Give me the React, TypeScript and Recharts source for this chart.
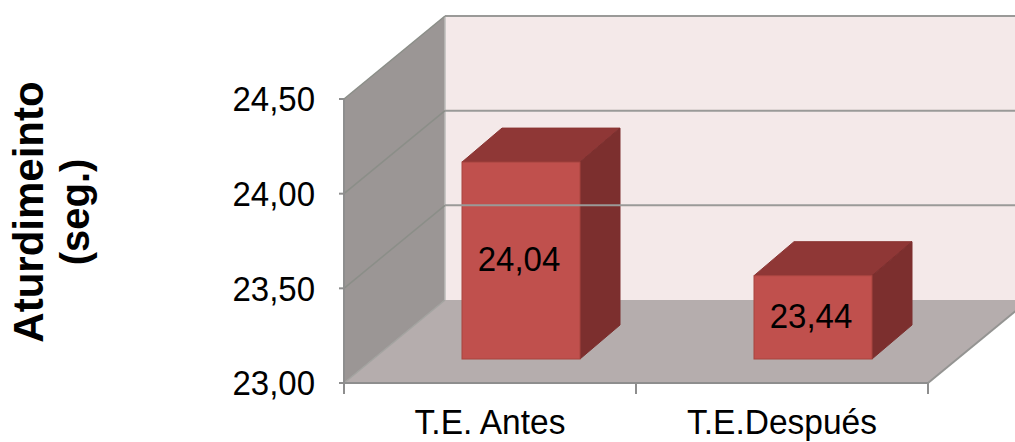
import React from "react";
import { BarChart, Bar, XAxis, YAxis, ReferenceArea, ReferenceLine, LabelList, Label } from "recharts";

// Chart values
const categories = ["T.E. Antes", "T.E.Después"];
const stunTimes = [24.04, 23.44];
const yTicks = [23, 23.5, 24, 24.5];
const yDomain = [23, 24.5];
const titleLines = ["Aturdimeinto", "(seg.)"];

const rows = categories.map((name, i) => ({ name, value: stunTimes[i] }));

// Oblique projection of the 3D box
const DEPTH_X = 101;
const DEPTH_Y = 83;
const BAR_DX = 31;
const BAR_DY = 24;
const BAR_DEPTH_X = 40;
const BAR_DEPTH_Y = 34;

// Text runs slightly taller than wide
const TEXT_STRETCH = 1.07;

const FONT = "'Liberation Sans', Arial, sans-serif";
const fmt = (v: number) => v.toFixed(2).replace(".", ",");

const StretchedText = ({ x, y, anchor, size = 33, children }: any) => (
  <text
    transform={`translate(${x} ${y}) scale(1 ${TEXT_STRETCH})`}
    textAnchor={anchor}
    dominantBaseline="central"
    fontFamily={FONT}
    fontSize={size}
    fill="#000"
  >
    {children}
  </text>
);

const BoxWalls = ({ x, y, width, height }: any) => {
  const bottom = y + height;
  const right = x + width;
  const step = width / categories.length;
  const tickXs = categories.map((_, i) => x + step * i).concat(right);
  return (
    <g>
      <polygon
        points={`${x + DEPTH_X},${y - DEPTH_Y} ${right + DEPTH_X},${y - DEPTH_Y} ${right + DEPTH_X},${bottom - DEPTH_Y} ${x + DEPTH_X},${bottom - DEPTH_Y}`}
        fill="#F4E9E9"
      />
      <polygon
        points={`${x},${y} ${x + DEPTH_X},${y - DEPTH_Y} ${x + DEPTH_X},${bottom - DEPTH_Y} ${x},${bottom}`}
        fill="#9B9695"
      />
      <polygon
        points={`${x},${bottom} ${right},${bottom} ${right + DEPTH_X},${bottom - DEPTH_Y} ${x + DEPTH_X},${bottom - DEPTH_Y}`}
        fill="#B5ADAD"
      />
      <line x1={x} y1={bottom} x2={x + DEPTH_X} y2={bottom - DEPTH_Y} stroke="#A3A3A0" strokeWidth={1.5} />
      <line x1={x + DEPTH_X} y1={y - DEPTH_Y} x2={x + DEPTH_X} y2={bottom - DEPTH_Y} stroke="#BDBBBA" strokeWidth={1.5} />
      <line x1={right} y1={bottom} x2={right + DEPTH_X} y2={bottom - DEPTH_Y} stroke="#949492" strokeWidth={2} />
      <line x1={x} y1={bottom} x2={right} y2={bottom} stroke="#8E8E8E" strokeWidth={2} />
      {tickXs.map((tx) => (
        <line key={tx} x1={tx} y1={bottom} x2={tx} y2={bottom + 11} stroke="#8E8E8E" strokeWidth={2} />
      ))}
    </g>
  );
};

const WallGridLine = ({ x1, x2, y1 }: any) => (
  <g>
    <line x1={x1} y1={y1} x2={x1 + DEPTH_X} y2={y1 - DEPTH_Y} stroke="#8B8E88" strokeWidth={1.5} />
    <line x1={x1 + DEPTH_X} y1={y1 - DEPTH_Y} x2={x2 + DEPTH_X} y2={y1 - DEPTH_Y} stroke="#9A9A98" strokeWidth={2} />
  </g>
);

const Box3D = ({ x, y, width, height }: any) => {
  const left = x + BAR_DX;
  const right = left + width;
  const top = y - BAR_DY;
  const bottom = y + height - BAR_DY;
  return (
    <g>
      <polygon
        points={`${left},${top} ${left + BAR_DEPTH_X},${top - BAR_DEPTH_Y} ${right + BAR_DEPTH_X},${top - BAR_DEPTH_Y} ${right},${top}`}
        fill="#8F3736"
        stroke="#8A3533"
      />
      <polygon
        points={`${right},${top} ${right + BAR_DEPTH_X},${top - BAR_DEPTH_Y} ${right + BAR_DEPTH_X},${bottom - BAR_DEPTH_Y} ${right},${bottom}`}
        fill="#7C2F2E"
        stroke="#7C2F2E"
      />
      <rect x={left} y={top} width={width} height={bottom - top} fill="#C0504D" stroke="#A8443F" />
    </g>
  );
};

const BoxValue = ({ x, y, width, height, value }: any) => (
  <StretchedText x={x + BAR_DX + width / 2 - 2} y={y + height / 2 - BAR_DY - 2} anchor="middle">
    {fmt(value)}
  </StretchedText>
);

const ValueTick = ({ x, y, payload }: any) => (
  <StretchedText x={x} y={y} anchor="end">
    {fmt(payload.value)}
  </StretchedText>
);

const CategoryTick = ({ x, y, payload }: any) => (
  <StretchedText x={x} y={y + 9} anchor="middle" size={33.5}>
    {payload.value}
  </StretchedText>
);

const AxisTitle = ({ viewBox }: any) => {
  const cy = viewBox.y + viewBox.height / 2 - 29;
  return (
    <g fontFamily={FONT} fontWeight="bold" fontSize={40} fill="#000" textAnchor="middle">
      {titleLines.map((line, i) => {
        const cx = 43 + i * 46;
        return (
          <text key={line} x={cx} y={cy} transform={`rotate(-90 ${cx} ${cy})`} fontSize={i === 0 ? 42 : 40}>
            {line}
          </text>
        );
      })}
    </g>
  );
};

export default function App() {
  return (
    <div style={{ position: "absolute", left: 0, top: 0, width: 1015, height: 442, overflow: "hidden", background: "#fff" }}>
      <BarChart
        width={1015}
        height={442}
        data={rows}
        margin={{ top: 99, right: 87, bottom: 0, left: 0 }}
        barSize={118}
      >
        <ReferenceArea x1={categories[0]} x2={categories[1]} y1={yDomain[0]} y2={yDomain[1]} shape={BoxWalls} ifOverflow="visible" />
        {yTicks.slice(1).map((t) => (
          <ReferenceLine key={t} y={t} shape={WallGridLine} ifOverflow="visible" />
        ))}
        <XAxis
          dataKey="name"
          height={59}
          axisLine={false}
          tickLine={false}
          tickMargin={24}
          interval={0}
          tick={CategoryTick}
        />
        <YAxis
          width={344}
          domain={yDomain}
          ticks={yTicks}
          interval={0}
          tickFormatter={fmt}
          tickSize={5}
          tickMargin={24}
          axisLine={{ stroke: "#8E8E8E", strokeWidth: 2 }}
          tickLine={{ stroke: "#8E8E8E", strokeWidth: 2 }}
          tick={ValueTick}
        >
          <Label content={AxisTitle} />
        </YAxis>
        <Bar dataKey="value" shape={Box3D} isAnimationActive={false}>
          <LabelList dataKey="value" content={BoxValue} />
        </Bar>
      </BarChart>
    </div>
  );
}
